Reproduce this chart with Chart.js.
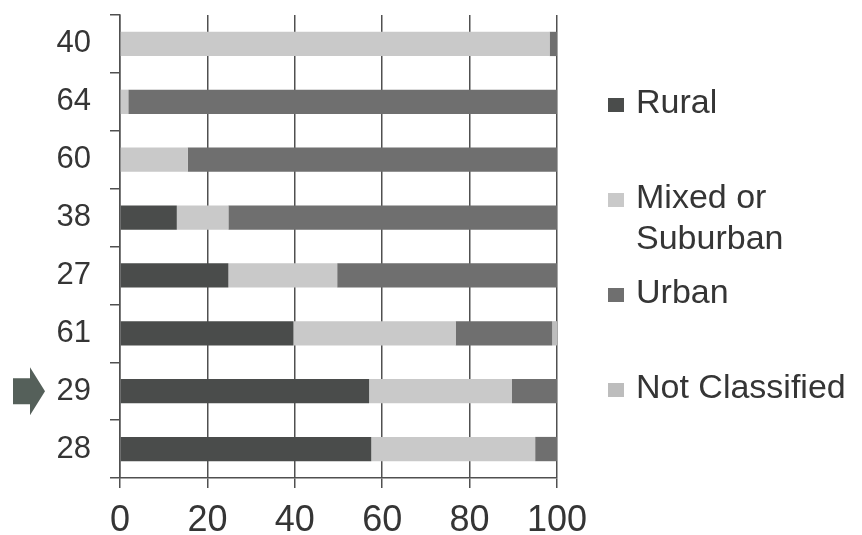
<!DOCTYPE html>
<html>
<head>
<meta charset="utf-8">
<script src="https://cdn.jsdelivr.net/npm/chart.js@4"></script>
<style>
  html, body { margin: 0; padding: 0; background: #ffffff; }
  #wrap { width: 862px; height: 535px; position: relative; }
</style>
</head>
<body>
<div id="wrap"><canvas id="chart" width="862" height="535"></canvas></div>
<script>
// Area type share (%) for each district
const categories = ['40', '64', '60', '38', '27', '61', '29', '28'];
const rural         = [0,    0,    0,    13,   24.8, 39.7, 57,   57.5];
const mixed         = [98.3, 1.9,  15.5, 11.8, 24.9, 37.1, 32.7, 37.5];
const urban         = [1.7,  98.1, 84.5, 75.2, 50.3, 22.1, 10.3, 5];
const notClassified = [0,    0,    0,    0,    0,    1.1,  0,    0];
const seriesNames = ['Rural', 'Mixed or Suburban', 'Urban', 'Not Classified'];
const xTicks = [0, 20, 40, 60, 80, 100];
const highlighted = '29';

const colors = ['#4a4c4b', '#c9c9c9', '#6f6f6f', '#bdbdbd'];
const FONT = "'Liberation Sans', Arial, sans-serif";
const INK = '#353535';
const GRID = '#505050';

const seriesValues = [rural, mixed, urban, notClassified];
const datasets = seriesNames.map((name, i) => ({
  label: name,
  data: seriesValues[i],
  backgroundColor: colors[i],
  borderWidth: 0,
  categoryPercentage: 1,
  barPercentage: 0.42
}));

// Legend at the right, with word wrapping for long labels
const sideLegend = {
  id: 'sideLegend',
  afterDraw(chart) {
    const ctx = chart.ctx;
    ctx.save();
    ctx.font = '34px ' + FONT;
    ctx.fillStyle = INK;
    ctx.textBaseline = 'alphabetic';
    const x0 = 608, textX = 636, maxW = 224;
    chart.data.datasets.forEach((ds, i) => {
      const base = 113 + i * 95;
      ctx.fillStyle = ds.backgroundColor;
      ctx.fillRect(x0, base - 15, 16, 14);
      ctx.fillStyle = INK;
      const words = ds.label.split(' ');
      const lines = [];
      let cur = '';
      words.forEach(w => {
        const test = cur ? cur + ' ' + w : w;
        if (ctx.measureText(test).width > maxW && cur) { lines.push(cur); cur = w; }
        else cur = test;
      });
      lines.push(cur);
      lines.forEach((ln, k) => ctx.fillText(ln, textX, base + k * 41));
    });
    ctx.restore();
  }
};

// Arrow marker beside the highlighted district
const arrowMarker = {
  id: 'arrowMarker',
  afterDraw(chart) {
    const y = chart.scales.y.getPixelForValue(categories.indexOf(highlighted));
    const ctx = chart.ctx;
    ctx.save();
    ctx.fillStyle = '#55605a';
    ctx.beginPath();
    ctx.moveTo(13, y - 13);
    ctx.lineTo(30, y - 13);
    ctx.lineTo(30, y - 24);
    ctx.lineTo(45, y);
    ctx.lineTo(30, y + 24);
    ctx.lineTo(30, y + 13);
    ctx.lineTo(13, y + 13);
    ctx.closePath();
    ctx.fill();
    ctx.restore();
  }
};

new Chart(document.getElementById('chart'), {
  type: 'bar',
  data: { labels: categories, datasets },
  options: {
    indexAxis: 'y',
    responsive: false,
    animation: false,
    layout: { padding: { top: 15, right: 305, bottom: 0, left: 0 } },
    plugins: { legend: { display: false }, tooltip: { enabled: false } },
    scales: {
      x: {
        stacked: true,
        min: 0,
        max: 100,
        afterBuildTicks(scale) { scale.ticks = xTicks.map(v => ({ value: v })); },
        afterFit(scale) { scale.height = 57; scale.paddingLeft = 0; scale.paddingRight = 0; },
        grid: { color: GRID, lineWidth: 1.5, tickLength: 10, drawTicks: true },
        border: { color: GRID, width: 1.5 },
        ticks: { color: INK, font: { family: FONT, size: 36 }, padding: 11, maxRotation: 0 }
      },
      y: {
        stacked: true,
        afterFit(scale) { scale.width = 120; scale.paddingTop = 0; scale.paddingBottom = 0; },
        grid: { drawOnChartArea: false, color: GRID, lineWidth: 1.5, tickLength: 10, offset: true },
        border: { color: GRID, width: 1.5 },
        ticks: { color: INK, font: { family: FONT, size: 31 }, padding: 19 }
      }
    }
  },
  plugins: [sideLegend, arrowMarker]
});
</script>
</body>
</html>
